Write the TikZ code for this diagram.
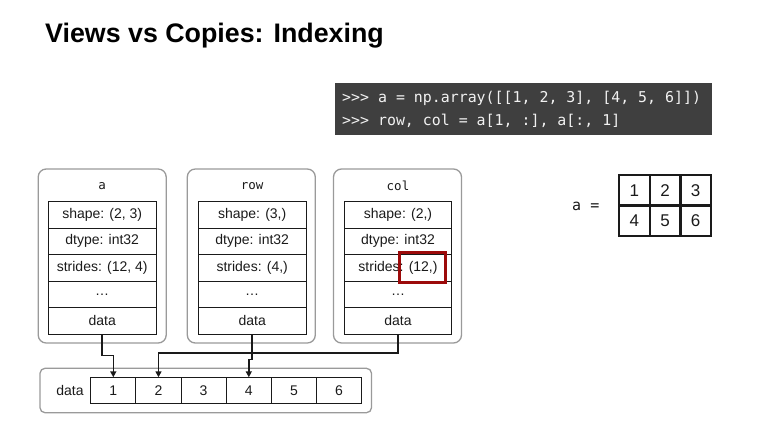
\documentclass[tikz,border=0pt]{standalone}
\usepackage{fontspec}
\setmainfont{Liberation Sans}
\setmonofont{DejaVu Sans Mono}
\usetikzlibrary{arrows.meta}
\definecolor{codebg}{HTML}{3F3F3F}
\definecolor{codefg}{HTML}{F2F2F2}
\definecolor{boxgray}{HTML}{9A9A9A}
\definecolor{hilite}{HTML}{9C0A0A}
\definecolor{ink}{HTML}{1A1A1A}

\tikzset{
  txt/.style={font=\fontsize{14}{16}\selectfont, text=ink},
  field/.style={txt, draw=ink, line width=0.9pt, minimum width=107.7pt,
    minimum height=26.5pt, inner sep=0pt, anchor=center},
  objbox/.style={draw=boxgray, line width=1.3pt, rounded corners=8pt,
    minimum width=128pt, minimum height=174pt, inner sep=0pt},
  objname/.style={font=\ttfamily\fontsize{12.5}{14}\selectfont, text=ink},
  cell/.style={txt, draw=ink, line width=0.9pt, minimum width=45.17pt,
    minimum height=25.6pt, inner sep=0pt},
  mcell/.style={font=\fontsize{17}{19}\selectfont, text=ink, draw=ink,
    line width=2.3pt, minimum width=30.7pt, minimum height=30.5pt, inner sep=0pt},
  codeline/.style={font=\ttfamily\fontsize{14.9}{16}\selectfont, text=codefg,
    anchor=west, inner sep=0pt},
  link/.style={draw=ink, line width=1.6pt,
    -{Triangle[length=6pt,width=6pt]}},
}

\begin{document}
\begin{tikzpicture}[x=1pt,y=-1pt]
\useasboundingbox (0,0) rectangle (772,440);

% title
\node[anchor=west, inner sep=0pt, font=\bfseries\fontsize{26.8}{30}\selectfont]
  (title) at (45,36) {Views vs Copies: Indexing};

% code listing
\fill[codebg] (335,83) rectangle (712,135);
\node[codeline] (code1) at (342,98) {>{}>{}> a = np.array([[1, 2, 3], [4, 5, 6]])};
\node[codeline] (code2) at (342,121) {>{}>{}> row, col = a[1, :], a[:, 1]};

% array objects
\node[objbox] (a-box)   at (102.2,256) {};
\node[objbox] (row-box) at (251.3,256) {};
\node[objbox] (col-box) at (397.5,256) {};

\node[objname] (a-name)   at (102.2,186) {a};
\node[objname] (row-name) at (252.2,186) {row};
\node[objname] (col-name) at (398,186) {col};

% a
\node[field] (a-shape)   at (102.2,214.75) {shape: (2, 3)};
\node[field] (a-dtype)   at (102.2,241.25) {dtype: int32};
\node[field] (a-strides) at (102.2,267.75) {strides: (12, 4)};
\node[field] (a-dots)    at (102.2,294.25) {\ldots};
\node[field] (a-data)    at (102.2,320.75) {data};

% row
\node[field] (row-shape)   at (252.2,214.75) {shape: (3,)};
\node[field] (row-dtype)   at (252.2,241.25) {dtype: int32};
\node[field] (row-strides) at (252.2,267.75) {strides: (4,)};
\node[field] (row-dots)    at (252.2,294.25) {\ldots};
\node[field] (row-data)    at (252.2,320.75) {data};

% col
\node[field] (col-shape)   at (398,214.75) {shape: (2,)};
\node[field] (col-dtype)   at (398,241.25) {dtype: int32};
\node[field] (col-strides) at (398,267.75) {strides: (12,)};
\node[field] (col-dots)    at (398,294.25) {\ldots};
\node[field] (col-data)    at (398,320.75) {data};

% highlighted stride
\draw[hilite, line width=3pt] (399.5,252.8) rectangle (445.2,282.8);

% shared data buffer
\draw[boxgray, line width=1.3pt, rounded corners=5pt] (40,368.3) rectangle (371.5,412.7);
\node[txt] (data-label) at (70,390.5) {data};
\node[cell] (d1) at (113.3,390.5) {1};
\node[cell] (d2) at (158.5,390.5) {2};
\node[cell] (d3) at (203.6,390.5) {3};
\node[cell] (d4) at (248.8,390.5) {4};
\node[cell] (d5) at (294.0,390.5) {5};
\node[cell] (d6) at (339.1,390.5) {6};

% data pointers
\draw[link] (a-data.south) -- ++(0,21) -| (d1.north);
\draw[link] (col-data.south) -- ++(0,18.5) -| (d2.north);
\draw[link] (row-data.south) -- ++(0,25) -| (d4.north);

% logical view of a
\node[font=\ttfamily\fontsize{15}{17}\selectfont, text=ink, anchor=west, inner sep=0pt]
  (a-eq) at (572,206) {a =};
\node[mcell] (m11) at (634.3,190.3) {1};
\node[mcell] (m12) at (665.0,190.3) {2};
\node[mcell] (m13) at (695.7,190.3) {3};
\node[mcell] (m21) at (634.3,220.8) {4};
\node[mcell] (m22) at (665.0,220.8) {5};
\node[mcell] (m23) at (695.7,220.8) {6};
\end{tikzpicture}
\end{document}
